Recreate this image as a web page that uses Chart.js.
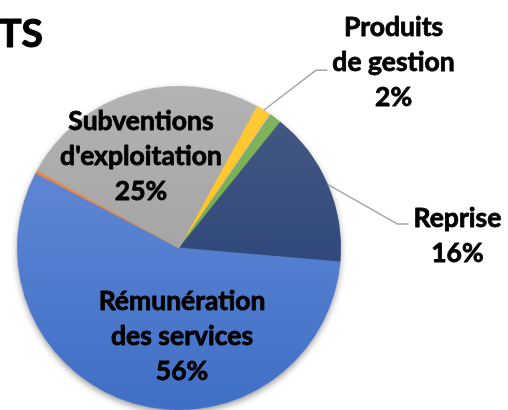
<!DOCTYPE html>
<html>
<head>
<meta charset="utf-8">
<script src="https://cdn.jsdelivr.net/npm/chart.js@4.4.1/dist/chart.umd.min.js"></script>
<style>
html,body{margin:0;padding:0;background:#fff;overflow:hidden;}
#wrap{width:508px;height:410px;position:relative;}
</style>
</head>
<body>
<div id="wrap"><canvas id="c" width="508" height="410"></canvas></div>
<script>
// ---- data ----
const titleText = 'TS';
const categories = ['Produits de gestion', 'Produits financiers', 'Autres produits', 'Reprise',
  'Rémunération des services', 'Produits exceptionnels', "Subventions d'exploitation"];
const shares = [1.6, 0.14, 1.06, 15.6, 56.3, 0.3, 25.0];
const labelLines = [['Produits', 'de gestion'], null, null, ['Reprise'],
  ['Rémunération', 'des services'], null, ['Subventions', "d'exploitation"]];
const startAngleDeg = 28.7;

// ---- styles ----
const palette = [
  ['#ffca3a', '#ffbf00'],
  ['#6fa3d8', '#5b9bd5'],
  ['#7fb65a', '#6aa744'],
  ['#485a84', '#1c3a72'],
  ['#6a8ed8', '#3f6fc6'],
  ['#ee8a45', '#ed7d31'],
  ['#b3b3b3', '#979797']
];
// label layout in units of the pie radius, relative to the pie centre
const labelLayout = {
  0: {dx: 1.327, dy: -1.148, elbow: {dx: 0.846, dy: -1.099}},
  3: {dx: 1.722, dy: -0.074, elbow: {dx: 1.352, dy: -0.148}},
  4: {dx: 0.019, dy: 0.549},
  6: {dx: -0.235, dy: -0.568}
};
const FONT = 'Lato, "Open Sans", sans-serif';
const fontPx = 26.5;
const lineH = 35;

function grad(ctx, i) {
  const chart = ctx.chart;
  const ca = chart.chartArea;
  if (!ca) return palette[i][1];
  const g = chart.ctx.createLinearGradient(0, ca.top, 0, ca.bottom);
  g.addColorStop(0, palette[i][0]);
  g.addColorStop(1, palette[i][1]);
  return g;
}

const shadowPlugin = {
  id: 'pieShadow',
  beforeDatasetsDraw(chart) {
    const arc = chart.getDatasetMeta(0).data[0];
    if (!arc) return;
    const c = chart.ctx;
    c.save();
    c.shadowColor = 'rgba(0,0,0,0.45)';
    c.shadowBlur = 7;
    c.shadowOffsetX = 0;
    c.shadowOffsetY = 3;
    c.beginPath();
    c.arc(arc.x, arc.y, arc.outerRadius - 0.5, 0, Math.PI * 2);
    c.fillStyle = '#9a9a9a';
    c.fill();
    c.restore();
  }
};

function boldText(c, t, x, y, sw) {
  c.fillText(t, x, y);
  c.lineWidth = sw;
  c.strokeText(t, x, y);
}

const labelPlugin = {
  id: 'pieLabels',
  afterDatasetsDraw(chart) {
    const meta = chart.getDatasetMeta(0);
    const c = chart.ctx;
    const data = chart.data.datasets[0].data;
    const total = data.reduce((a, b) => a + b, 0);
    c.save();
    c.font = `bold ${fontPx}px ${FONT}`;
    c.fillStyle = '#000';
    c.strokeStyle = '#000';
    c.lineJoin = 'round';
    c.textAlign = 'center';
    c.textBaseline = 'middle';
    meta.data.forEach((arc, i) => {
      const lines = labelLines[i];
      if (!lines) return;
      const L = labelLayout[i];
      const R = arc.outerRadius;
      const all = lines.concat([Math.round(data[i] / total * 100) + '%']);
      const cx = arc.x + L.dx * R;
      const cy = arc.y + L.dy * R;
      const y0 = cy - (all.length - 1) * lineH / 2;
      let maxW = 0;
      all.forEach((t, k) => {
        boldText(c, t, cx, y0 + k * lineH, 0.8);
        maxW = Math.max(maxW, c.measureText(t).width);
      });
      if (L.elbow) {
        const mid = (arc.startAngle + arc.endAngle) / 2;
        const sx = arc.x + Math.cos(mid) * R;
        const sy = arc.y + Math.sin(mid) * R;
        const ex = arc.x + L.elbow.dx * R;
        const ey = arc.y + L.elbow.dy * R;
        c.beginPath();
        c.moveTo(sx, sy);
        c.lineTo(ex, ey);
        c.lineTo(cx - maxW / 2 - 5, ey);
        c.strokeStyle = '#a6a6a6';
        c.lineWidth = 1.5;
        c.stroke();
        c.strokeStyle = '#000';
      }
    });
    // title fragment
    c.font = `bold 39px ${FONT}`;
    c.textAlign = 'right';
    c.textBaseline = 'alphabetic';
    boldText(c, titleText, 43, 47, 1.1);
    c.restore();
  }
};

new Chart(document.getElementById('c'), {
  type: 'pie',
  data: {
    labels: categories,
    datasets: [{
      data: shares,
      backgroundColor: (ctx) => grad(ctx, ctx.dataIndex),
      borderColor: (ctx) => grad(ctx, ctx.dataIndex),
      borderWidth: 0.6,
      hoverOffset: 0,
      offset: 0
    }]
  },
  options: {
    responsive: false,
    devicePixelRatio: 1,
    animation: false,
    rotation: startAngleDeg,
    layout: {padding: {left: 0, top: 86, right: 150, bottom: 0}},
    plugins: {
      legend: {display: false},
      tooltip: {enabled: false},
      title: {display: false}
    },
    events: []
  },
  plugins: [shadowPlugin, labelPlugin]
});
</script>
</body>
</html>
